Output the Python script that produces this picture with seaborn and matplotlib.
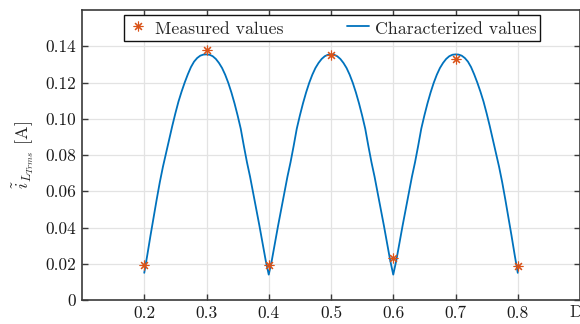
import matplotlib
matplotlib.use('Agg')
import matplotlib.pyplot as plt
import seaborn as sns
import pandas as pd

# Measured points
D_meas = [0.2, 0.3, 0.4, 0.5, 0.6, 0.7, 0.8]
i_meas = [0.0195, 0.138, 0.0195, 0.135, 0.023, 0.133, 0.0185]

# Characterized curve, every 0.005 in D
D_curve = [round(0.2 + 0.005 * k, 3) for k in range(121)]
i_curve = [
    # 0.200 - 0.300
    0.0150, 0.0250, 0.0355, 0.0455, 0.0555, 0.0650, 0.0735, 0.0810, 0.0885, 0.0960,
    0.1030, 0.1095, 0.1150, 0.1200, 0.1245, 0.1285, 0.1315, 0.1335, 0.1348, 0.1354,
    0.1355,
    # 0.305 - 0.400
    0.1353, 0.1345, 0.1330, 0.1308, 0.1280, 0.1243, 0.1198, 0.1145, 0.1085, 0.1018,
    0.0945, 0.0850, 0.0760, 0.0680, 0.0590, 0.0500, 0.0410, 0.0315, 0.0220, 0.0140,
    # 0.405 - 0.500
    0.0220, 0.0315, 0.0410, 0.0500, 0.0590, 0.0680, 0.0760, 0.0850, 0.0945, 0.1018,
    0.1085, 0.1145, 0.1198, 0.1243, 0.1280, 0.1308, 0.1330, 0.1345, 0.1353, 0.1355,
    # 0.505 - 0.600
    0.1353, 0.1345, 0.1330, 0.1308, 0.1280, 0.1243, 0.1198, 0.1145, 0.1085, 0.1018,
    0.0945, 0.0850, 0.0760, 0.0680, 0.0590, 0.0500, 0.0410, 0.0315, 0.0220, 0.0140,
    # 0.605 - 0.700
    0.0220, 0.0315, 0.0410, 0.0500, 0.0590, 0.0680, 0.0760, 0.0850, 0.0945, 0.1018,
    0.1085, 0.1145, 0.1198, 0.1243, 0.1280, 0.1308, 0.1330, 0.1345, 0.1353, 0.1355,
    # 0.705 - 0.800
    0.1354, 0.1348, 0.1335, 0.1315, 0.1285, 0.1245, 0.1200, 0.1150, 0.1095, 0.1030,
    0.0960, 0.0885, 0.0810, 0.0735, 0.0650, 0.0555, 0.0455, 0.0355, 0.0250, 0.0150,
]

x_ticks = [0.2, 0.3, 0.4, 0.5, 0.6, 0.7, 0.8]
x_ticklabels = ['0.2', '0.3', '0.4', '0.5', '0.6', '0.7', '0.8']
y_ticks = [0, 0.02, 0.04, 0.06, 0.08, 0.10, 0.12, 0.14]
y_ticklabels = ['0', '0.02', '0.04', '0.06', '0.08', '0.10', '0.12', '0.14']

BLUE = '#0072BD'
ORANGE = '#D95319'

sns.set_theme(style='whitegrid')
plt.rcParams['font.family'] = 'serif'
plt.rcParams['font.serif'] = ['cmr10']
plt.rcParams['mathtext.fontset'] = 'cm'
plt.rcParams['axes.unicode_minus'] = False
plt.rcParams['axes.formatter.use_mathtext'] = True

fig = plt.figure(figsize=(5.8, 3.24), dpi=100)
ax = fig.add_axes([82 / 580, 1 - 300 / 324, 498 / 580, 290 / 324])

curve = pd.DataFrame({'D': D_curve, 'i': i_curve})
meas = pd.DataFrame({'D': D_meas, 'i': i_meas})

sns.lineplot(data=curve, x='D', y='i', ax=ax, color=BLUE, linewidth=1.3,
             label='Characterized values', zorder=3)
sns.lineplot(data=meas, x='D', y='i', ax=ax, color=ORANGE, linestyle='',
             marker=(8, 2, 0), markersize=7, markeredgewidth=0.8,
             markeredgecolor=ORANGE, label='Measured values', zorder=4)

ax.set_xlim(0.1, 0.9)
ax.set_ylim(0, 0.16)
ax.set_xticks(x_ticks)
ax.set_xticklabels(x_ticklabels)
ax.set_yticks(y_ticks)
ax.set_yticklabels(y_ticklabels)

ax.grid(True, color='#e3e3e3', linewidth=0.9)
for s in ax.spines.values():
    s.set_visible(True)
    s.set_color('#3a3a3a')
    s.set_linewidth(1.2)
ax.tick_params(direction='in', length=4, width=1.0, color='#3a3a3a',
               top=True, right=True, bottom=True, left=True,
               labelsize=12.5, pad=4, labelcolor='#1a1a1a')

ax.set_xlabel('')
ax.set_ylabel(r'$\tilde{i}_{L_{Trms}}$ [A]', fontsize=13, labelpad=7)
fig.text(569 / 580, 1 - 312 / 324, 'D', fontsize=12.5, ha='left', va='center')

handles, labels = ax.get_legend_handles_labels()
order = [1, 0]
leg = ax.legend([handles[k] for k in order], [labels[k] for k in order],
                loc='upper center', bbox_to_anchor=(0.502, 0.983), ncol=2,
                fontsize=12.8, frameon=True, fancybox=False, framealpha=1,
                edgecolor='#111111', borderaxespad=0, borderpad=0.2,
                handlelength=1.2, handleheight=1.25, handletextpad=0.35,
                columnspacing=3.6)
leg.get_frame().set_linewidth(1.0)

fig.savefig('out.png', dpi=100)
